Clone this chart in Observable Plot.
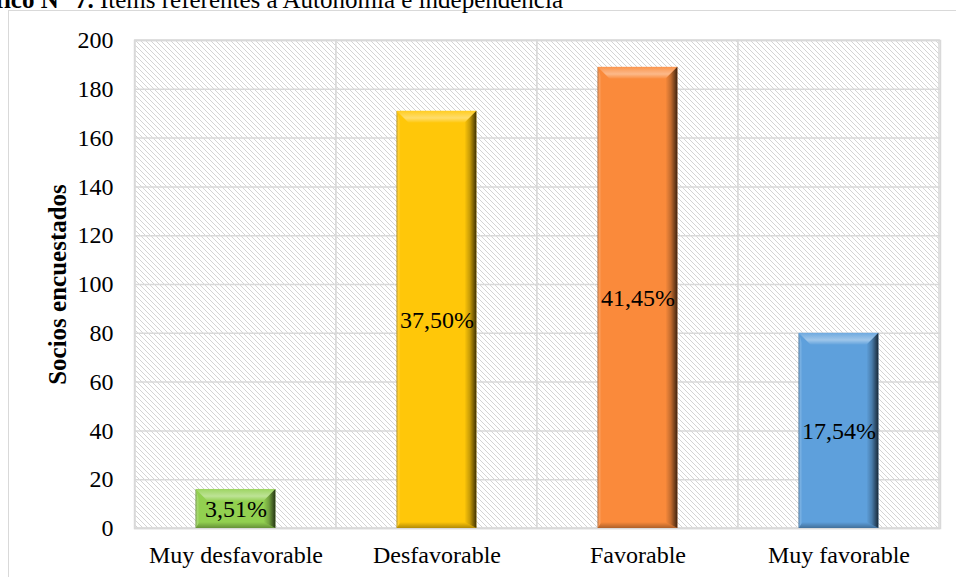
<!DOCTYPE html>
<html>
<head>
<meta charset="utf-8">
<script src="https://cdn.jsdelivr.net/npm/d3@7"></script>
<script src="https://cdn.jsdelivr.net/npm/@observablehq/plot@0.6"></script>
<style>
  html, body { margin: 0; padding: 0; background: #fff; }
  #chart { position: relative; width: 956px; height: 577px; overflow: hidden;
           font-family: "Liberation Serif", "Times New Roman", serif; color: #000; }
  #border { position: absolute; left: 8px; top: 10px; width: 1000px; height: 700px;
            border: 1.5px solid #d9d9d9; box-sizing: border-box; }
  #title { position: absolute; right: 393px; top: -13px; font-size: 25px; line-height: 1;
           white-space: nowrap; }
  #chart svg { position: absolute; left: 0; top: 0; }
  #chart svg text { font-family: "Liberation Serif", "Times New Roman", serif; font-variant: normal; }
</style>
</head>
<body>
<div id="chart">
  <div id="border"></div>
  <div id="title"><b>Gráfico N° 7.</b> Ítems referentes a Autonomía e independencia</div>
</div>
<script>
// Respuestas por categoría (número de socios)
const categories = ["Muy desfavorable", "Desfavorable", "Favorable", "Muy favorable"];
const counts = [16, 171, 189, 80];
const barColors = ["#92d050", "#ffc709", "#fa8a3b", "#5ea0dc"];
const yTicks = [0, 20, 40, 60, 80, 100, 120, 140, 160, 180, 200];
const yTitle = "Socios encuestados";

const total = d3.sum(counts);
const rows = categories.map((c, i) => ({category: c, count: counts[i], color: barColors[i]}));
const pct = (v) => (v / total * 100).toFixed(2).replace(".", ",") + "%";

const serif = '"Liberation Serif", "Times New Roman", serif';
const grid = "#d9d9d9";

const svg = Plot.plot({
  width: 956,
  height: 577,
  marginLeft: 134,
  marginRight: 16,
  marginTop: 40,
  marginBottom: 49,
  style: {
    fontFamily: serif,
    fontSize: "24px",
    color: "#000",
    background: "transparent",
    overflow: "visible"
  },
  x: {domain: categories, padding: 0},
  y: {domain: [0, 200]},
  marks: [
    // hatched background, one cell per category (gives the vertical separators)
    Plot.cell(categories, {x: (d) => d, fill: "url(#hatch)", stroke: grid, strokeWidth: 1.5}),
    Plot.ruleY(yTicks, {stroke: grid, strokeWidth: 1.5}),
    Plot.frame({stroke: grid, strokeWidth: 1.5}),
    Plot.axisY({ticks: yTicks, tickSize: 0, tickPadding: 21, label: null,
                fontSize: 24, fontFamily: serif, fontVariant: "normal"}),
    Plot.axisX({tickSize: 0, tickPadding: 17, label: null,
                fontSize: 24, fontFamily: serif, fontVariant: "normal"}),
    Plot.barY(rows, {x: "category", y: "count", fill: "color", insetLeft: 60.6, insetRight: 60.6}),
    Plot.text(rows, {x: "category", y: (d) => d.count / 2, text: (d) => pct(d.count),
                     fontSize: 24, fontFamily: serif, fontVariant: "normal", fill: "#000"}),
    Plot.text([yTitle], {frameAnchor: "left", text: (d) => d, rotate: -90, dx: -77,
                         textAnchor: "middle", fontWeight: "bold", fontSize: 25,
                         fontFamily: serif, fill: "#000"})
  ]
});

// pattern and bevel gradients
const root = d3.select(svg);
const defs = root.insert("defs", ":first-child");

const hatch = defs.append("pattern").attr("id", "hatch")
  .attr("patternUnits", "userSpaceOnUse").attr("width", 5).attr("height", 5);
hatch.append("rect").attr("width", 5).attr("height", 5).attr("fill", "#fff");
hatch.append("path").attr("d", "M-1,-1L6,6M-1,4L1,6M4,-1L6,1")
  .attr("stroke", "#d4d4d4").attr("stroke-width", 1);

function gradient(id, x2, y2, stops) {
  const g = defs.append("linearGradient").attr("id", id)
    .attr("x1", 0).attr("y1", 0).attr("x2", x2).attr("y2", y2);
  for (const [o, c, a] of stops) {
    g.append("stop").attr("offset", o).attr("stop-color", c).attr("stop-opacity", a);
  }
}
gradient("bvTop", 0, 1, [[0, "#fff", 0.1], [0.6, "#fff", 0.4], [1, "#fff", 0.02]]);
gradient("bvRight", 1, 0, [[0, "#000", 0], [0.45, "#000", 0.22], [1, "#000", 0.75]]);
gradient("bvLeft", 1, 0, [[0, "#000", 0.4], [0.4, "#fff", 0.18], [1, "#fff", 0]]);
gradient("bvBottom", 0, 1, [[0, "#000", 0], [1, "#000", 0.3]]);

// bevelled faces on each bar, following the rect the bar mark drew
root.selectAll('g[aria-label="bar"] rect').each(function () {
  const r = d3.select(this);
  const x = +r.attr("x"), y = +r.attr("y"), w = +r.attr("width"), h = +r.attr("height");
  const b = Math.min(12, h / 3, w / 4);
  const bl = 4, bb = Math.min(6, h / 4);
  const faces = [
    ["bvTop", [[x, y], [x + w, y], [x + w - b, y + b], [x + b, y + b]]],
    ["bvRight", [[x + w - b, y + b], [x + w, y], [x + w, y + h], [x + w - b, y + h - bb]]],
    ["bvLeft", [[x, y], [x + bl, y + b], [x + bl, y + h - bb], [x, y + h]]],
    ["bvBottom", [[x, y + h], [x + bl, y + h - bb], [x + w - b, y + h - bb], [x + w, y + h]]]
  ];
  const g = d3.select(this.parentNode);
  for (const [id, pts] of faces) {
    g.append("polygon").attr("points", pts.map((p) => p.join(",")).join(" "))
      .attr("fill", `url(#${id})`);
  }
});

document.getElementById("chart").appendChild(svg);
</script>
</body>
</html>
